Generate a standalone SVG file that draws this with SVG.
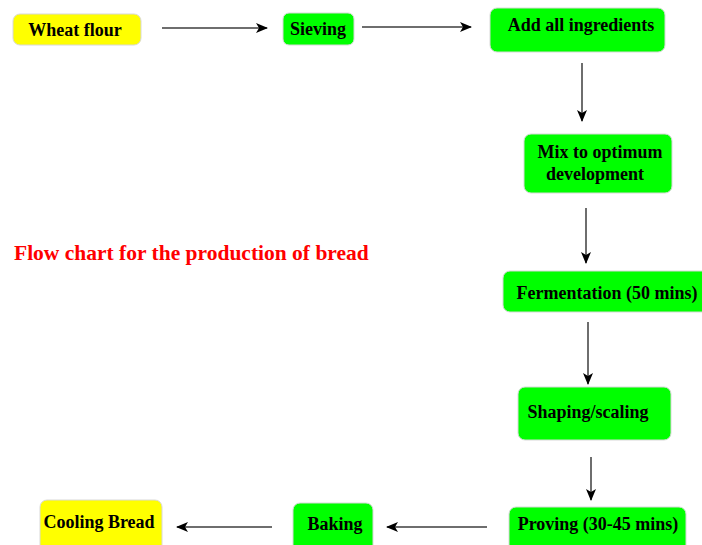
<svg xmlns="http://www.w3.org/2000/svg" width="702" height="545" viewBox="0 0 702 545">
<style>
.box{stroke:#d8d8d8;stroke-width:1}
.g{fill:#00ff00}
.y{fill:#ffff00}
.t{font-family:"Liberation Serif",serif;font-weight:bold;font-size:18px;fill:#000;text-anchor:middle}
.c{stroke:#6e6e6e;stroke-width:2;fill:none;marker-end:url(#ah)}
.title{font-family:"Liberation Serif",serif;font-weight:bold;font-size:21.5px;fill:#ff0000}
</style>
<defs>
<marker id="ah" markerWidth="12" markerHeight="10" refX="11" refY="5" orient="auto" markerUnits="userSpaceOnUse">
<path d="M0,0 L12,5 L0,10 L3,5 Z" fill="#000"/>
</marker>
</defs>
<rect width="702" height="545" fill="#fff"/>
<g id="connectors">
<line class="c" x1="162" y1="28" x2="267" y2="28"/>
<line class="c" x1="362" y1="27" x2="471" y2="27"/>
<line class="c" x1="582" y1="63" x2="582" y2="121"/>
<line class="c" x1="586" y1="208" x2="586" y2="263"/>
<line class="c" x1="588" y1="322" x2="588" y2="384"/>
<line class="c" x1="591" y1="457" x2="591" y2="500"/>
<line class="c" x1="487" y1="527" x2="387" y2="527"/>
<line class="c" x1="272" y1="527" x2="177" y2="527"/>
</g>
<g id="wheat-flour"><rect class="box y" x="13" y="14" width="128" height="31" rx="7"/><text class="t" x="75" y="36">Wheat flour</text></g>
<g id="sieving"><rect class="box g" x="283" y="13" width="71" height="32" rx="6"/><text class="t" x="318" y="35">Sieving</text></g>
<g id="add-ingredients"><rect class="box g" x="490" y="8" width="175" height="44" rx="7"/><text class="t" x="581" y="31">Add all ingredients</text></g>
<g id="mix"><rect class="box g" x="524" y="134" width="148" height="59" rx="7"/><text class="t" x="600" y="158">Mix to optimum</text><text class="t" x="595" y="180">development</text></g>
<g id="fermentation"><rect class="box g" x="503" y="271" width="210" height="41" rx="7"/><text class="t" x="607" y="299">Fermentation (50 mins)</text></g>
<g id="shaping"><rect class="box g" x="518" y="387" width="153" height="53" rx="7"/><text class="t" x="588" y="418">Shaping/scaling</text></g>
<g id="proving"><rect class="box g" x="509" y="507" width="177" height="45" rx="7"/><text class="t" x="598" y="530">Proving (30-45 mins)</text></g>
<g id="baking"><rect class="box g" x="293" y="503" width="80" height="50" rx="7"/><text class="t" x="335" y="530">Baking</text></g>
<g id="cooling-bread"><rect class="box y" x="40" y="500" width="122" height="52" rx="7"/><text class="t" x="99" y="528">Cooling Bread</text></g>
<text class="title" x="14" y="260">Flow chart for the production of bread</text>
</svg>
